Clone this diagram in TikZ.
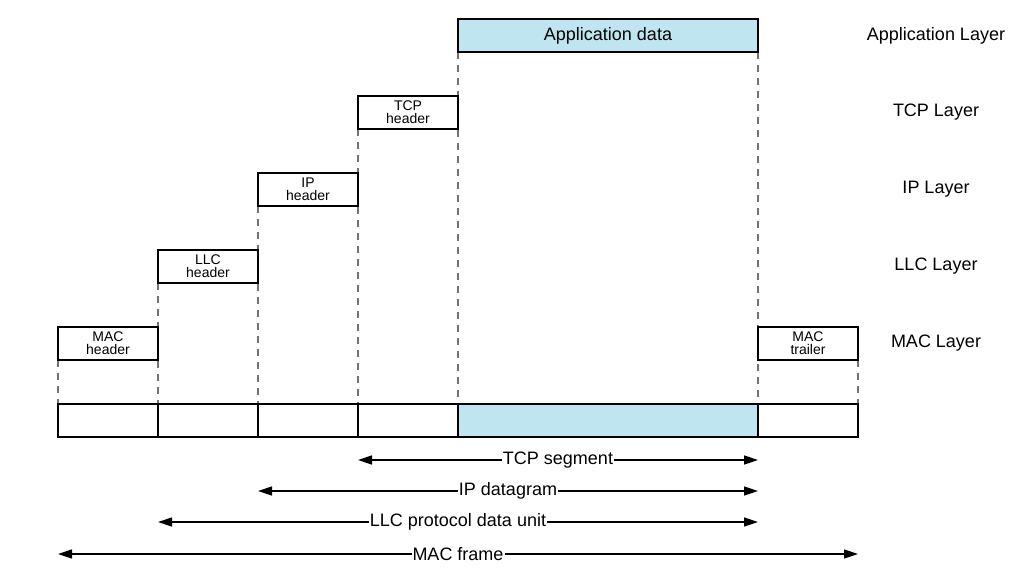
\documentclass[tikz,border=0pt]{standalone}
\usepackage{fontspec}
\setmainfont{Liberation Sans}
\usetikzlibrary{positioning}
\usetikzlibrary{arrows.meta}
\usetikzlibrary{backgrounds}
\definecolor{appblue}{RGB}{190,229,240}
\tikzstyle{cell} = [draw,line width=1.8pt,minimum width=100pt,minimum height=33pt,inner sep=0pt,outer sep=0pt]
\tikzstyle{hdr} = [cell,align=center,font=\fontsize{14}{13}\selectfont]
\tikzstyle{guide} = [draw=black!55,line width=1.5pt,dash pattern=on 7pt off 6pt]
\tikzstyle{span} = [line width=1.5pt,{Triangle[length=14pt,width=9pt]}-{Triangle[length=14pt,width=9pt]}]
\tikzstyle{spanlbl} = [fill=white,inner sep=1pt,font=\fontsize{18}{20}\selectfont]
\tikzstyle{layer} = [font=\fontsize{18}{20}\selectfont]

\begin{document}
\begin{tikzpicture}[x=1pt,y=-1pt,node distance=0pt]
  \useasboundingbox (0,0) rectangle (1027,578);

  % the frame as it goes on the wire
  \node[cell,anchor=north west] (F1) at (58,404) {};
  \node[cell,right=of F1] (F2) {};
  \node[cell,right=of F2] (F3) {};
  \node[cell,right=of F3] (F4) {};
  \node[cell,fill=appblue,minimum width=300pt,right=of F4] (F5) {};
  \node[cell,right=of F5] (F6) {};

  % headers, one step up per layer
  \node[hdr,above=44pt of F1] (MAC) {MAC\\header};
  \node[hdr,above right=44pt and 0pt of MAC.north east] (LLC) {LLC\\header};
  \node[hdr,above right=44pt and 0pt of LLC.north east] (IP) {IP\\header};
  \node[hdr,above right=44pt and 0pt of IP.north east] (TCP) {TCP\\header};
  \node[cell,fill=appblue,minimum width=300pt,font=\fontsize{18}{20}\selectfont,
        above right=44pt and 0pt of TCP.north east] (APP) {Application data};
  \node[hdr,above=44pt of F6] (TRL) {MAC\\trailer};

  \begin{scope}[on background layer]
    \foreach \a/\b in {MAC.south west/F1.north west, LLC.south west/F2.north west,
                       IP.south west/F3.north west, TCP.south west/F4.north west,
                       APP.south west/F5.north west, APP.south east/F6.north west,
                       TRL.south east/F6.north east}
      {\draw[guide] (\a) -- (\b);}
  \end{scope}

  % layer names
  \foreach \n/\t in {APP/Application Layer,TCP/TCP Layer,IP/IP Layer,LLC/LLC Layer,MAC/MAC Layer}
    {\node[layer] (L\n) at (936,0 |- \n) {\t};}

  % extents of each unit
  \draw[span] ([yshift=-23pt]F4.south west) -- node[spanlbl] {TCP segment} ([yshift=-23pt]F6.south west);
  \draw[span] ([yshift=-54pt]F3.south west) -- node[spanlbl] {IP datagram} ([yshift=-54pt]F6.south west);
  \draw[span] ([yshift=-85pt]F2.south west) -- node[spanlbl] {LLC protocol data unit} ([yshift=-85pt]F6.south west);
  \draw[span] ([yshift=-117pt]F1.south west) -- node[spanlbl] {MAC frame} ([yshift=-117pt]F6.south east);
\end{tikzpicture}
\end{document}
